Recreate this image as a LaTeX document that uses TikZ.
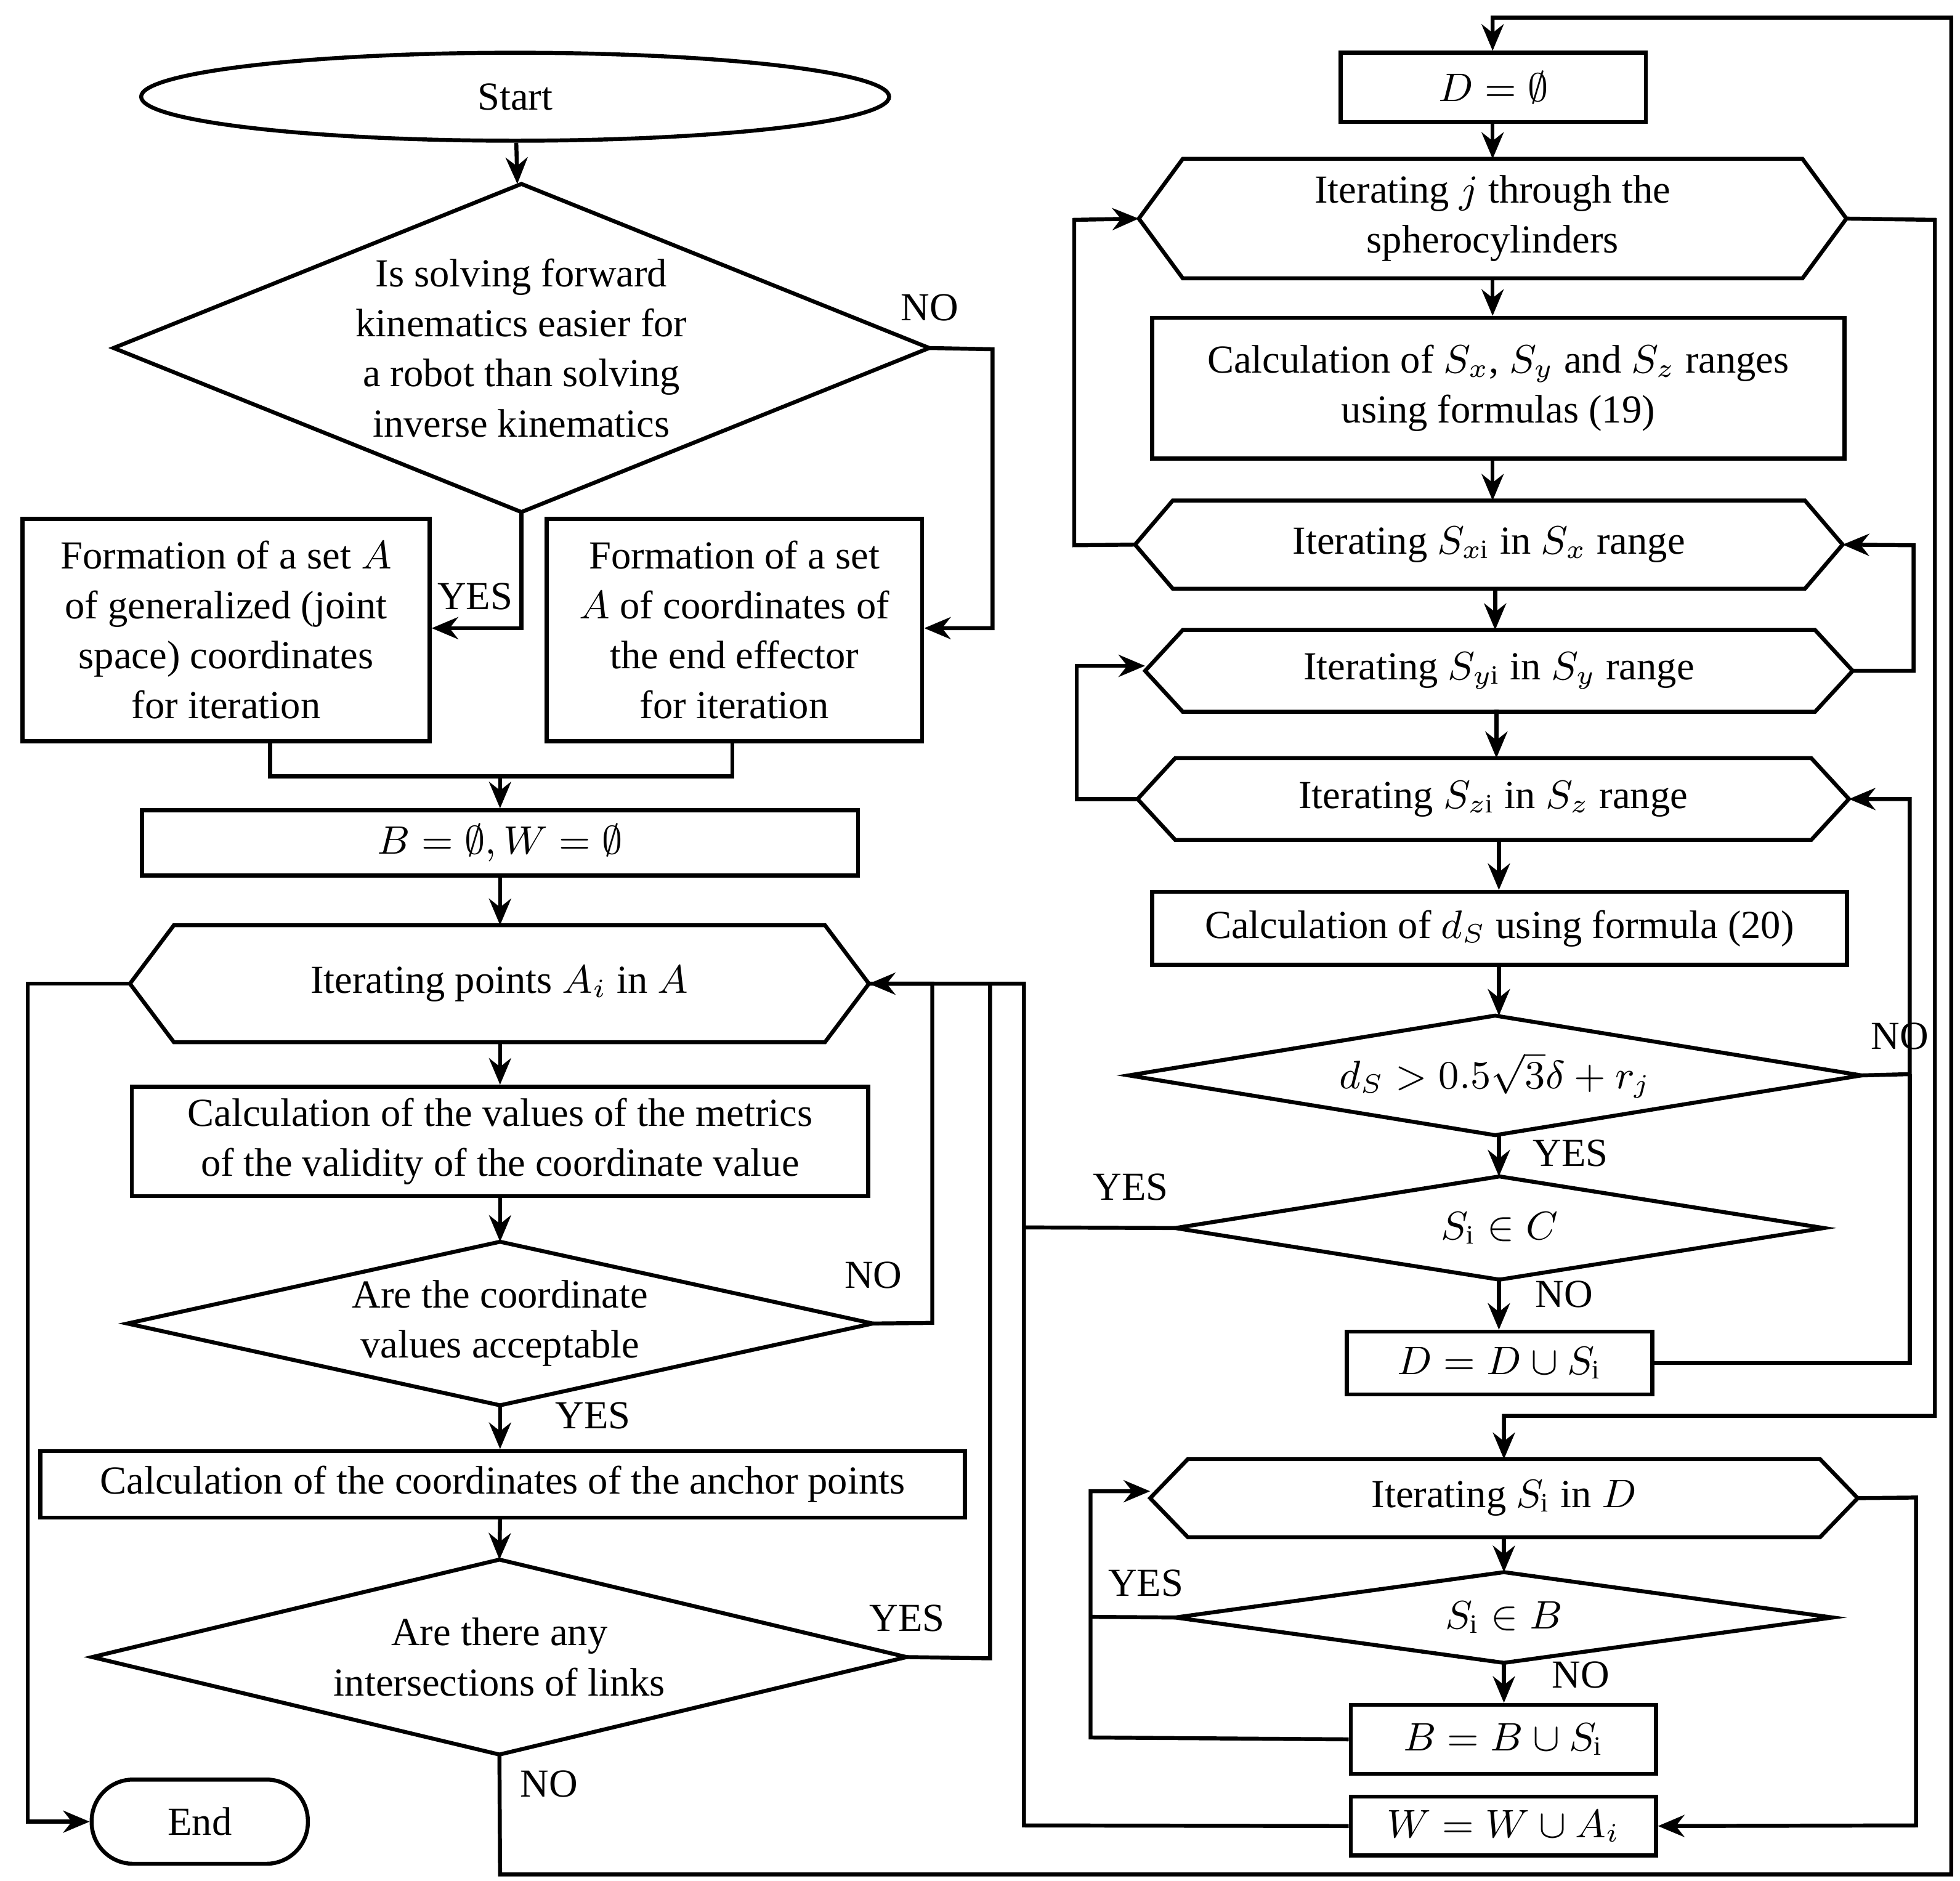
\documentclass[tikz,border=0pt]{standalone}
\usepackage{amssymb}
\usepackage{fontspec}
\setmainfont{Liberation Serif}
\usetikzlibrary{arrows.meta,shapes.geometric}
\newcommand\bx[7][]{\node[box,#1,minimum width={(#4-#3)*0.01cm},minimum height={(#6-#5)*0.01cm}] (#2) at ({(#3+#4)/2},{(#5+#6)/2}) {#7};}
\newcommand\hexn[7][35]{\node[box,draw=none,minimum width={(#4-#3)*0.01cm},minimum height={(#6-#5)*0.01cm}] (#2) at ({(#3+#4)/2},{(#5+#6)/2}) {#7};
 \draw (#2.west) -- ([xshift=#1*0.01cm]#2.north west) -- ([xshift=-#1*0.01cm]#2.north east) -- (#2.east) -- ([xshift=-#1*0.01cm]#2.south east) -- ([xshift=#1*0.01cm]#2.south west) -- cycle;}
\newcommand\dia[6]{\node[box,draw=none,minimum width={(#3-#2)*0.01cm},minimum height={(#5-#4)*0.01cm}] (#1) at ({(#2+#3)/2},{(#4+#5)/2}) {#6};
 \draw (#1.west) -- (#1.north) -- (#1.east) -- (#1.south) -- cycle;}
\begin{document}
\begin{tikzpicture}[x=0.01cm,y=-0.01cm,line width=0.9pt,
 box/.style={draw,inner sep=0pt,align=center,font=\fontsize{9}{11.3}\selectfont},
 ar/.style={-{Stealth[length=6pt,width=5pt]}},
 lb/.style={font=\fontsize{9}{11}\selectfont}]
\useasboundingbox (0,0) rectangle (1560,1497);
% left column
\node[box,ellipse,minimum width=5.95cm,minimum height=0.7cm] (st) at (410,77) {Start};
\dia{d1}{92}{738}{148}{406}{Is solving forward\\kinematics easier for\\a robot than solving\\inverse kinematics}
\bx{a1}{18}{342}{413}{590}{Formation of a set $A$\\of generalized (joint\\space) coordinates\\for iteration}
\bx{a2}{435}{734}{413}{590}{Formation of a set\\$A$ of coordinates of\\the end effector\\for iteration}
\bx{bw}{113}{683}{645}{697}{$B=\emptyset, W=\emptyset$}
\hexn{hA}{105}{690}{738}{828}{Iterating points $A_i$ in $A$}
\bx{cm}{105}{691}{865}{952}{Calculation of the values of the metrics\\of the validity of the coordinate value}
\dia{d2}{103}{693}{990}{1117}{Are the coordinate\\values acceptable}
\bx{ca}{32}{768}{1155}{1208}{Calculation of the coordinates of the anchor points}
\dia{d3}{75}{720}{1243}{1395}{Are there any\\intersections of links}
\node[box,rounded corners=0.33cm,minimum width=1.72cm,minimum height=0.67cm] (en) at (159,1450) {End};
% right column
\bx{D}{1067}{1310}{42}{97}{$D=\emptyset$}
\hexn{hj}{908}{1468}{128}{220}{Iterating $j$ through the\\spherocylinders}
\bx{cs}{917}{1468}{253}{365}{Calculation of $S_x$, $S_y$ and $S_z$ ranges\\using formulas (19)}
\hexn[30]{hx}{905}{1465}{400}{467}{Iterating $S_{x\mathrm{i}}$ in $S_x$ range}
\hexn[30]{hy}{913}{1473}{503}{565}{Iterating $S_{y\mathrm{i}}$ in $S_y$ range}
\hexn[30]{hz}{907}{1470}{605}{667}{Iterating $S_{z\mathrm{i}}$ in $S_z$ range}
\bx{cd}{917}{1470}{710}{768}{Calculation of $d_S$ using formula (20)}
\dia{d4}{900}{1480}{810}{902}{$d_S>0.5\sqrt{3}\delta+r_j$}
\dia{d5}{937}{1450}{938}{1017}{$S_\mathrm{i}\in C$}
\bx{Du}{1072}{1315}{1060}{1110}{$D=D\cup S_\mathrm{i}$}
\hexn[30]{hD}{917}{1477}{1163}{1222}{Iterating $S_\mathrm{i}$ in $D$}
\dia{d6}{937}{1457}{1253}{1322}{$S_\mathrm{i}\in B$}
\bx{Bu}{1075}{1318}{1357}{1412}{$B=B\cup S_\mathrm{i}$}
\bx{Wu}{1075}{1318}{1430}{1477}{$W=W\cup A_i$}
% left connectors
\draw[ar] (st) -- (d1);
\draw[ar] (d1.south) -- (415,500) -- (a1.east|-0,500);
\draw[ar] (d1.east) -- (790,278) -- (790,500) -- (a2.east|-0,500);
\draw (a1.south-|215,0) -- (215,618) -- (583,618) -- (a2.south-|583,0);
\draw[ar] (398,618) -- (bw.north-|398,0);
\draw[ar] (bw.south-|398,0) -- (hA.north-|398,0);
\draw[ar] (398,828) -- (cm.north-|398,0);
\draw[ar] (398,952) -- (d2.north);
\draw[ar] (d2.east) -- (742,1053) -- (742,783) -- (hA.east);
\draw[ar] (d2.south) -- (ca.north-|398,0);
\draw[ar] (398,1208) -- (d3.north);
\draw (d3.east) -- (788,1320) -- (788,783);
\draw[ar] (hA.west) -- (22,783) -- (22,1450) -- (en.west);
\draw[ar] (d3.south) -- (398,1492) -- (1553,1492) -- (1553,14) -- (1188,14) -- (D.north-|1188,0);
\draw (Wu.west) -- (815,1453) -- (815,783) -- (690,783);
\draw (d5.west) -- (815,977);
% right connectors
\draw[ar] (1188,97) -- (hj.north-|1188,0);
\draw[ar] (1188,220) -- (cs.north-|1188,0);
\draw[ar] (1188,365) -- (hx.north-|1188,0);
\draw[ar] (1190,467) -- (hy.north-|1190,0);
\draw[ar] (1191,565) -- (hz.north-|1191,0);
\draw[ar] (1193,667) -- (cd.north-|1193,0);
\draw[ar] (1193,768) -- (d4.north-|1193,0);
\draw[ar] (1193,902) -- (d5.north-|1193,0);
\draw[ar] (1193,1017) -- (Du.north-|1193,0);
\draw[ar] (1197,1222) -- (d6.north-|1197,0);
\draw[ar] (1197,1322) -- (Bu.north-|1197,0);
\draw[ar] (hj.east) -- (1540,175) -- (1540,1127) -- (1197,1127) -- (hD.north-|1197,0);
\draw[ar] (hx.west) -- (855,434) -- (855,175) -- (hj.west);
\draw[ar] (hy.east) -- (1523,534) -- (1523,434) -- (hx.east);
\draw[ar] (hz.west) -- (857,636) -- (857,530) -- (hy.west|-0,530);
\draw[ar] (d4.east) -- (1520,855) -- (1520,636) -- (hz.east);
\draw (Du.east) -- (1520,1085) -- (1520,855);
\draw[ar] (hD.east) -- (1525,1192) -- (1525,1453) -- (Wu.east);
\draw (d6.west) -- (868,1287);
\draw[ar] (Bu.west) -- (868,1383) -- (868,1187) -- (hD.west|-0,1187);
% labels
\node[lb] (l1) at (740,245) {NO};
\node[lb] (l2) at (378,475) {YES};
\node[lb] (l3) at (695,1015) {NO};
\node[lb] (l4) at (472,1127) {YES};
\node[lb] (l5) at (722,1288) {YES};
\node[lb] (l6) at (437,1420) {NO};
\node[lb] (l7) at (1512,825) {NO};
\node[lb] (l8) at (1250,918) {YES};
\node[lb] (l9) at (900,945) {YES};
\node[lb] (l10) at (1245,1030) {NO};
\node[lb] (l11) at (912,1260) {YES};
\node[lb] (l12) at (1258,1333) {NO};
\end{tikzpicture}
\end{document}
